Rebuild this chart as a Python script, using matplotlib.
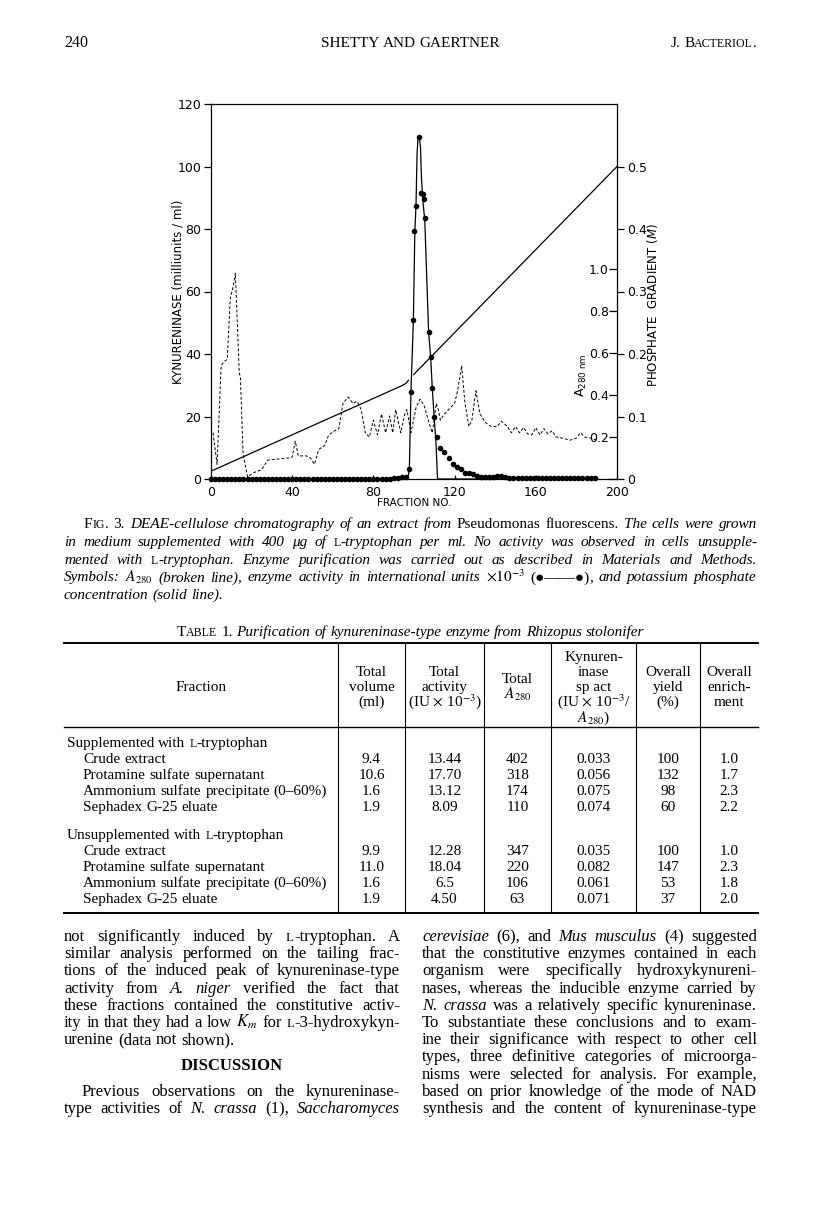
import re
import matplotlib
matplotlib.use('Agg')
import matplotlib.pyplot as plt

W, H = 816, 1221

# ---------------------------------------------------------------- chart data
# kynureninase activity, filled dots (fraction no., milliunits/ml)
act_frac = [0, 2, 4, 6, 8, 10, 12, 14, 16, 18, 20, 22, 24, 26, 28, 30, 32, 34,
            36, 38, 40, 42, 44, 46, 48, 50, 52, 54, 56, 58, 60, 62, 64, 66, 68,
            70, 72, 74, 76, 78, 80, 82, 84, 86, 88, 90, 92, 94, 96,
            97.7, 98.5, 99.7, 100.2, 101.2, 102.3, 103.4, 104.3, 104.9, 105.3,
            107.2, 108.2, 109.0, 109.9, 111.2, 113, 115, 117, 119, 121, 123,
            125, 127, 129, 131, 133, 135, 137, 139, 141, 143, 145, 147, 149,
            151, 153, 155, 157, 159, 161, 163, 165, 167, 169, 171, 173, 175,
            177, 179, 181, 183, 185, 187, 189]
act_val = [0, 0, 0, 0, 0, 0, 0, 0, 0, 0, 0, 0, 0, 0, 0, 0, 0, 0,
           0, 0, 0, 0, 0, 0, 0, 0, 0, 0, 0, 0, 0, 0, 0, 0, 0,
           0, 0, 0, 0, 0, 0, 0, 0, 0, 0, 0.3, 0.4, 0.5, 0.8,
           3.1, 27.9, 51.0, 79.5, 87.4, 109.3, 91.4, 91.3, 89.6, 83.4,
           47.0, 39.0, 29.2, 20.0, 13.4, 10.0, 8.6, 6.6, 4.8, 3.9, 3.2,
           1.8, 2.0, 1.6, 1.0, 0.8, 0.8, 0.8, 0.8, 1.0, 1.0, 0.8, 0.2, 0.2,
           0.2, 0.2, 0.2, 0.2, 0.2, 0.2, 0.2, 0.2, 0.2, 0.2, 0.2, 0.2, 0.2,
           0.2, 0.2, 0.2, 0.2, 0.2, 0.2, 0.2]
# hand drawn activity curve
curve_frac = [97.0, 97.7, 98.5, 99.7, 100.4, 101.0, 101.5, 102.0, 102.6, 103.2,
              103.7, 104.5, 105.3, 107.2, 108.2, 109.0, 109.9, 110.8, 111.6, 131.0]
curve_val = [0, 3.1, 27.9, 51.0, 79.0, 88.0, 104.0, 109.5, 109.5, 106.0,
             96.0, 88.0, 83.0, 47.0, 39.0, 29.2, 20.0, 12.0, 0, 0]
# A280 (broken line)
a280_frac = [1, 3, 5, 6.5, 8, 9.5, 11, 12, 13.9, 14.5, 15.8, 18, 21, 25, 28, 33,
             38, 40, 41.5, 43, 47, 49, 51, 53, 56, 58, 61, 63, 65, 67.5, 70, 72,
             74, 76, 78, 80, 82, 84, 86, 88, 89.5, 91, 93.5, 95.5, 96.5, 98.5,
             101, 103, 105, 107, 109, 111, 112, 113, 115, 117, 120, 121.5, 123.5,
             125, 127, 128.5, 130.5, 132.5, 135, 138, 141, 143, 146, 148, 150,
             152, 154, 156, 158, 160, 162, 164, 166, 168, 170, 173, 177, 180,
             182, 184, 187, 190]
a280_val = [0.22, 0.07, 0.54, 0.56, 0.57, 0.86, 0.92, 0.98, 0.51, 0.48, 0.12,
            0.01, 0.03, 0.045, 0.09, 0.095, 0.10, 0.105, 0.18, 0.11, 0.11, 0.10,
            0.07, 0.14, 0.16, 0.21, 0.23, 0.24, 0.36, 0.39, 0.36, 0.37, 0.33,
            0.22, 0.20, 0.28, 0.21, 0.31, 0.22, 0.30, 0.22, 0.33, 0.22, 0.31,
            0.33, 0.22, 0.34, 0.38, 0.35, 0.28, 0.22, 0.36, 0.33, 0.28, 0.31,
            0.33, 0.36, 0.42, 0.54, 0.37, 0.25, 0.28, 0.42, 0.31, 0.27, 0.25,
            0.25, 0.275, 0.25, 0.22, 0.25, 0.22, 0.245, 0.215, 0.21, 0.245, 0.21,
            0.24, 0.215, 0.23, 0.20, 0.195, 0.185, 0.195, 0.22, 0.20, 0.195, 0.185]
# potassium phosphate gradient (M), solid line (break where the peak crosses)
phos_frac = [0, 94.5, 96.0, 97.3, float('nan'), 99.8, 200]
phos_conc = [0.0125, 0.150, 0.153, 0.158, float('nan'), 0.167, 0.500]

# ---------------------------------------------------------------- table data
steps = ['Crude extract', 'Protamine sulfate supernatant',
         'Ammonium sulfate precipitate (0\u201360%)', 'Sephadex G-25 eluate']
sup_volume = ['9.4', '10.6', '1.6', '1.9']
sup_activity = ['13.44', '17.70', '13.12', '8.09']
sup_a280 = ['402', '318', '174', '110']
sup_spact = ['0.033', '0.056', '0.075', '0.074']
sup_yield = ['100', '132', '98', '60']
sup_enrich = ['1.0', '1.7', '2.3', '2.2']
uns_volume = ['9.9', '11.0', '1.6', '1.9']
uns_activity = ['12.28', '18.04', '6.5', '4.50']
uns_a280 = ['347', '220', '106', '63']
uns_spact = ['0.035', '0.082', '0.061', '0.071']
uns_yield = ['100', '147', '53', '37']
uns_enrich = ['1.0', '2.3', '1.8', '2.0']

SERIF = ['Liberation Serif', 'DejaVu Serif']
plt.rcParams['font.family'] = ['DejaVu Sans']

fig = plt.figure(figsize=(W / 100, H / 100), dpi=100)
renderer = fig.canvas.get_renderer()


# ---------------------------------------------------------------- the chart
ax = fig.add_axes([211 / W, 1 - 479 / H, 406 / W, 375 / H])
ax.plot(curve_frac, curve_val, color='k', lw=0.9)
ax.plot(act_frac, act_val, 'o', ms=3.0, color='k', ls='none', clip_on=False)
ax.set_xlim(0, 200)
ax.set_ylim(0, 120)
ax.set_xticks([0, 40, 80, 120, 160, 200])
ax.set_yticks([0, 20, 40, 60, 80, 100, 120])
ax.tick_params(axis='y', direction='out', length=5, width=0.9, labelsize=9, pad=2)
ax.tick_params(axis='x', direction='in', length=3, width=0.9, labelsize=9, pad=5)
for s in ax.spines.values():
    s.set_linewidth(0.9)
ax.set_xlabel('FRACTION NO.', fontsize=7.5)
ax.xaxis.set_label_coords(0.5, (479 - 498) / 375)
ax.set_ylabel('KYNURENINASE (milliunits / ml)', fontsize=8.5)
ax.yaxis.set_label_coords((184 - 211) / 406, (479 - 292) / 375)

axp = ax.twinx()
axp.plot(phos_frac, phos_conc, color='k', lw=0.9)
axp.set_ylim(0, 0.6)
axp.set_yticks([0, 0.1, 0.2, 0.3, 0.4, 0.5], ['0', '0.1', '0.2', '0.3', '0.4', '0.5'])
axp.tick_params(axis='y', direction='out', length=5, width=0.9, labelsize=9, pad=2)
for s in axp.spines.values():
    s.set_visible(False)
axp.set_ylabel('PHOSPHATE  GRADIENT ($\\mathit{M}$)', fontsize=8.5,
               math_fontfamily='dejavusans')
axp.yaxis.set_label_coords((645 - 211) / 406, (479 - 305) / 375)

axa = ax.twinx()
axa.plot(a280_frac, a280_val, color='k', lw=0.7, ls=(0, (3, 2)))
axa.set_ylim(0, 120 / 67.2)
axa.set_yticks([0, 0.2, 0.4, 0.6, 0.8, 1.0], ['', '0.2', '0.4', '0.6', '0.8', '1.0'])
axa.tick_params(axis='y', direction='in', length=6, width=0.9, labelsize=9, pad=-6)
plt.setp(axa.get_yticklabels(), ha='right')
for s in axa.spines.values():
    s.set_visible(False)
axa.set_ylabel('A$_{280\\ \\mathrm{nm}}$', fontsize=9, math_fontfamily='dejavusans')
axa.yaxis.set_label_coords((574 - 211) / 406, (479 - 375) / 375)


# ---------------------------------------------------------------- page text
def words_of(markup):
    pieces = []
    for m in re.finditer(r'<(i|b|sc)>(.*?)</\1>|([^<]+)', markup):
        if m.group(3) is not None:
            pieces.append((m.group(3), 'r'))
        else:
            pieces.append((m.group(2), m.group(1)))
    words, cur = [], []
    for txt, st in pieces:
        for j, part in enumerate(txt.split(' ')):
            if j > 0 and cur:
                words.append(cur)
                cur = []
            if not part:
                continue
            if st == 'sc':
                for m in re.finditer(r'[a-z]+|[^a-z]+', part):
                    s = m.group(0)
                    cur.append((s.upper(), 'small') if s.islower() else (s, 'r'))
            else:
                cur.append((part, st))
    if cur:
        words.append(cur)
    return words


def put(markup, x0, x1, y, size, mode='justify'):
    items, widths = [], []
    for word in words_of(markup):
        ts, wsum = [], 0
        for txt, st in word:
            kw = dict(fontsize=size, family=SERIF, va='baseline', ha='left',
                      math_fontfamily='stix')
            if st == 'i':
                kw['style'] = 'italic'
            elif st == 'b':
                kw['weight'] = 'bold'
            elif st == 'small':
                kw['fontsize'] = size * 0.78
            t = fig.text(0, 0, txt, **kw)
            bw = t.get_window_extent(renderer=renderer).width
            ts.append((t, bw))
            wsum += bw
        items.append(ts)
        widths.append(wsum)
    space = size * 100 / 72 * 0.26
    natural = sum(widths) + space * (len(items) - 1)
    gap = space
    start = x0
    if mode == 'justify' and len(items) > 1:
        gap = (x1 - x0 - sum(widths)) / (len(items) - 1)
    elif mode == 'center':
        start = (x0 + x1) / 2 - natural / 2
    elif mode == 'right':
        start = x1 - natural
    x = start
    for ts, wsum in zip(items, widths):
        for t, bw in ts:
            t.set_position((x / W, 1 - y / H))
            x += bw
        x += gap


LM, RM = 64, 757

# running head
put('240', LM, 200, 47, 11.5, 'left')
put('SHETTY AND GAERTNER', LM, RM, 47, 11, 'center')
put('J. <sc>Bacteriol.</sc>', 600, RM, 47, 11, 'right')

# figure legend
cap = [
    '<sc>Fig.</sc> 3. <i>DEAE-cellulose chromatography of an extract from</i> '
    'Pseudomonas fluorescens. <i>The cells were grown</i>',
    '<i>in medium supplemented with 400 \u03bcg of</i> <sc>l</sc><i>-tryptophan per ml. '
    'No activity was observed in cells unsupple-</i>',
    '<i>mented with</i> <sc>l</sc><i>-tryptophan. Enzyme purification was carried out '
    'as described in Materials and Methods.</i>',
    '<i>Symbols:</i> $A_{280}$ <i>(broken line), enzyme activity in international units</i> '
    '$\\times10^{-3}$ (\u25cf\u2014\u2014\u25cf)<i>, and potassium phosphate</i>',
    '<i>concentration (solid line).</i>',
]
for i, line in enumerate(cap):
    x0 = LM + 20 if i == 0 else LM
    put(line, x0, RM, 528 + 17.8 * i, 11, 'justify' if i < 4 else 'left')

# table
put('<sc>Table</sc> 1. <i>Purification of kynureninase-type enzyme from Rhizopus stolonifer</i>',
    LM, RM, 636, 11, 'center')
TL, TR = 64, 758
col_edges = [338, 405, 484, 551, 636, 700, TR]
for yy, lw in [(643, 1.4), (727, 1.0), (913, 1.4)]:
    fig.add_artist(plt.Line2D([TL / W, TR / W], [1 - yy / H, 1 - yy / H],
                              color='k', lw=lw))
for xx in col_edges[:-1]:
    fig.add_artist(plt.Line2D([xx / W, xx / W], [1 - 643 / H, 1 - 913 / H],
                              color='k', lw=0.8))
heads = [
    ['Total', 'volume', '(ml)'],
    ['Total', 'activity', '(IU $\\times$ 10$^{-3}$)'],
    ['Total', '$A_{280}$'],
    ['Kynuren-', 'inase', 'sp act', '(IU $\\times$ 10$^{-3}$/', '$A_{280}$)'],
    ['Overall', 'yield', '(%)'],
    ['Overall', 'enrich-', 'ment'],
]
put('Fraction', TL, col_edges[0], 691, 11, 'center')
for k, lines in enumerate(heads):
    n = len(lines)
    y0 = 691 - 15.2 * (n - 1) / 2
    for j, s in enumerate(lines):
        put(s.replace(' ', '\u00a0'), col_edges[k], col_edges[k + 1],
            y0 + 15.2 * j, 11, 'center')

groups = [
    ('Supplemented with <sc>l</sc>-tryptophan', 747,
     [sup_volume, sup_activity, sup_a280, sup_spact, sup_yield, sup_enrich]),
    ('Unsupplemented with <sc>l</sc>-tryptophan', 839,
     [uns_volume, uns_activity, uns_a280, uns_spact, uns_yield, uns_enrich]),
]
for title, gy, cols in groups:
    put(title, 67, 330, gy, 11, 'left')
    for r, name in enumerate(steps):
        ry = gy + 16 * (r + 1)
        put(name, 83, 330, ry, 11, 'left')
        for k, col in enumerate(cols):
            put(col[r], col_edges[k], col_edges[k + 1], ry, 11, 'center')

# body text, two columns
left_col = [
    'not significantly induced by <sc>l</sc>-tryptophan. A',
    'similar analysis performed on the tailing frac-',
    'tions of the induced peak of kynureninase-type',
    'activity from <i>A. niger</i> verified the fact that',
    'these fractions contained the constitutive activ-',
    'ity in that they had a low $K_m$ for <sc>l</sc>-3-hydroxykyn-',
    'urenine (data not shown).',
]
left_col2 = [
    'Previous observations on the kynureninase-',
    'type activities of <i>N. crassa</i> (1), <i>Saccharomyces</i>',
]
right_col = [
    '<i>cerevisiae</i> (6), and <i>Mus musculus</i> (4) suggested',
    'that the constitutive enzymes contained in each',
    'organism were specifically hydroxykynureni-',
    'nases, whereas the inducible enzyme carried by',
    '<i>N. crassa</i> was a relatively specific kynureninase.',
    'To substantiate these conclusions and to exam-',
    'ine their significance with respect to other cell',
    'types, three definitive categories of microorga-',
    'nisms were selected for analysis. For example,',
    'based on prior knowledge of the mode of NAD',
    'synthesis and the content of kynureninase-type',
]
LH = 17.2
BY = 941
BS = 12
for i, line in enumerate(left_col):
    put(line, LM, 400, BY + LH * i, BS, 'justify' if i < 6 else 'left')
put('<b>DISCUSSION</b>', LM, 400, BY + LH * 7.5, BS, 'center')
for i, line in enumerate(left_col2):
    put(line, LM + 18 if i == 0 else LM, 400, BY + LH * (9 + i), BS, 'justify')
for i, line in enumerate(right_col):
    put(line, 422, RM, BY + LH * i, BS, 'justify')

fig.savefig('out.png', dpi=100)
